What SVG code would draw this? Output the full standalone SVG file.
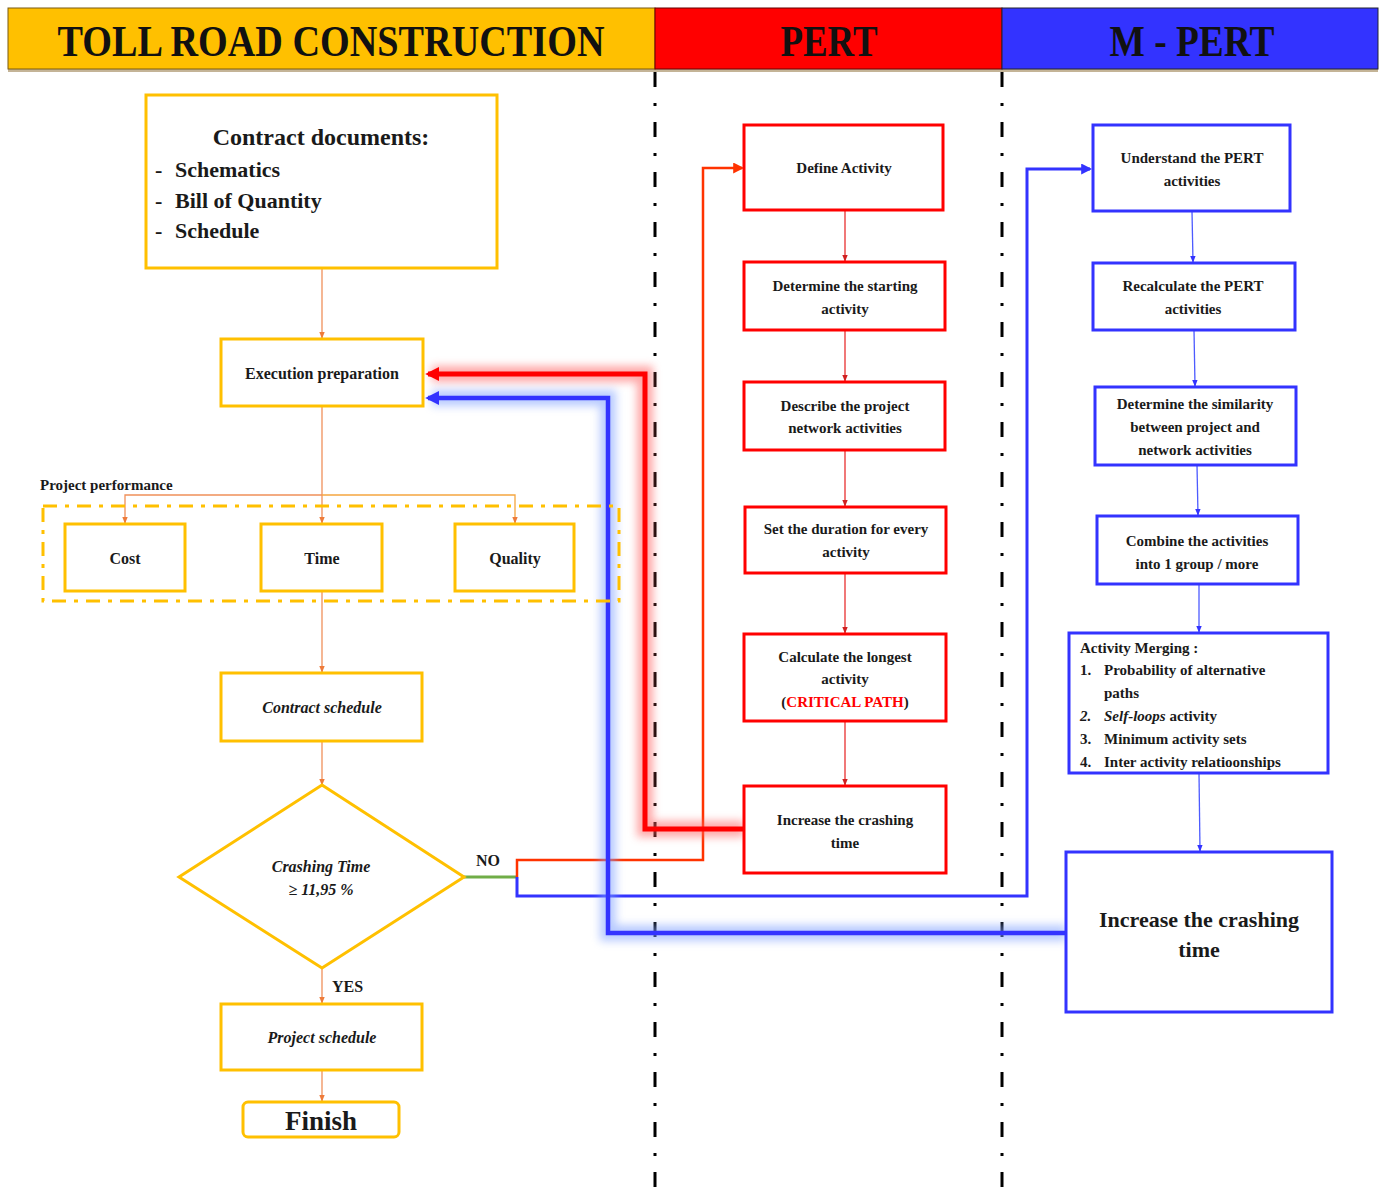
<svg xmlns="http://www.w3.org/2000/svg" width="1383" height="1203" viewBox="0 0 1383 1203">
  <style>
    text { font-family: "Liberation Serif", "Times New Roman", serif; font-weight: bold; fill: #1a1a1a; }
    .mid { text-anchor: middle; }
    .it { font-style: italic; }
    .s15 { font-size: 15px; }
    .s16 { font-size: 16px; }
    .head { font-size: 44px; fill: #111; }
    .yb { fill: #fff; stroke: #FFC000; stroke-width: 3; }
    .rb { fill: #fff; stroke: #FF0000; stroke-width: 3; }
    .bb { fill: #fff; stroke: #3333FF; stroke-width: 3; }
    .sep { stroke: #000; stroke-width: 3; stroke-dasharray: 15 16 3 16; fill: none; }
    .thinO { stroke: #F0905A; stroke-width: 1.3; fill: none; }
    .thinR { stroke: #E83030; stroke-width: 1.3; fill: none; }
    .thinB { stroke: #4D5BFF; stroke-width: 1.3; fill: none; }
  </style>
  <defs>
    <filter id="glow" x="-20%" y="-20%" width="140%" height="140%">
      <feGaussianBlur stdDeviation="4"/>
    </filter>
    <marker id="aO" viewBox="0 0 10 10" refX="9" refY="5" markerWidth="7" markerHeight="7" orient="auto" markerUnits="userSpaceOnUse">
      <path d="M0,1 L10,5 L0,9 z" fill="#EE7B3A"/>
    </marker>
    <marker id="aR" viewBox="0 0 10 10" refX="9" refY="5" markerWidth="7" markerHeight="7" orient="auto" markerUnits="userSpaceOnUse">
      <path d="M0,1 L10,5 L0,9 z" fill="#D02020"/>
    </marker>
    <marker id="aB" viewBox="0 0 10 10" refX="9" refY="5" markerWidth="7" markerHeight="7" orient="auto" markerUnits="userSpaceOnUse">
      <path d="M0,1 L10,5 L0,9 z" fill="#3333FF"/>
    </marker>
    <marker id="aRed" viewBox="0 0 10 10" refX="8" refY="5" markerWidth="11" markerHeight="11" orient="auto" markerUnits="userSpaceOnUse">
      <path d="M0,0 L10,5 L0,10 z" fill="#FF3300"/>
    </marker>
    <marker id="aBlue" viewBox="0 0 10 10" refX="8" refY="5" markerWidth="11" markerHeight="11" orient="auto" markerUnits="userSpaceOnUse">
      <path d="M0,0 L10,5 L0,10 z" fill="#3333FF"/>
    </marker>
    <marker id="aRedBig" viewBox="0 0 10 10" refX="8" refY="5" markerWidth="14" markerHeight="14" orient="auto" markerUnits="userSpaceOnUse">
      <path d="M0,0 L10,5 L0,10 z" fill="#FF0000"/>
    </marker>
    <marker id="aBlueBig" viewBox="0 0 10 10" refX="8" refY="5" markerWidth="14" markerHeight="14" orient="auto" markerUnits="userSpaceOnUse">
      <path d="M0,0 L10,5 L0,10 z" fill="#3333FF"/>
    </marker>
  </defs>

  <rect width="1383" height="1203" fill="#fff"/>

  <!-- column headers -->
  <g id="header">
    <rect x="8" y="9" width="1370" height="63" fill="#8a6a30" opacity="0.5"/>
    <rect x="8" y="8" width="647" height="61" fill="#FFC000" stroke="#7a5a10" stroke-width="1"/>
    <rect x="655" y="8" width="347" height="61" fill="#FF0000" stroke="#600" stroke-width="1"/>
    <rect x="1002" y="8" width="376" height="61" fill="#3333FF" stroke="#223" stroke-width="1"/>
    <text class="head mid" x="331" y="56" textLength="547" lengthAdjust="spacingAndGlyphs">TOLL ROAD CONSTRUCTION</text>
    <text class="head mid" x="829" y="56" textLength="97" lengthAdjust="spacingAndGlyphs">PERT</text>
    <text class="head mid" x="1192" y="56" textLength="165" lengthAdjust="spacingAndGlyphs">M - PERT</text>
  </g>

  <!-- lane separators -->
  <g id="separators">
    <line class="sep" x1="655" y1="72" x2="655" y2="1203"/>
    <line class="sep" x1="1002" y1="72" x2="1002" y2="1203"/>
  </g>

  <!-- connectors -->
  <g id="connectors">
    <!-- left lane flow -->
    <line class="thinO" x1="322" y1="268" x2="322" y2="338" marker-end="url(#aO)"/>
    <line class="thinO" x1="322" y1="406" x2="322" y2="523" marker-end="url(#aO)"/>
    <polyline class="thinO" points="322,495 125,495 125,523" marker-end="url(#aO)"/>
    <polyline points="322,495 515,495 515,523" fill="none" stroke="#F5A640" stroke-width="1.3" marker-end="url(#aO)"/>
    <line class="thinO" x1="322" y1="591" x2="322" y2="672" marker-end="url(#aO)"/>
    <line class="thinO" x1="322" y1="741" x2="322" y2="785" marker-end="url(#aO)"/>
    <line class="thinO" x1="322" y1="968" x2="322" y2="1003" marker-end="url(#aO)"/>
    <line class="thinO" x1="322" y1="1070" x2="322" y2="1101" marker-end="url(#aO)"/>

    <!-- PERT lane flow -->
    <line class="thinR" x1="845" y1="210" x2="845" y2="261" marker-end="url(#aR)"/>
    <line class="thinR" x1="845" y1="330" x2="845" y2="381" marker-end="url(#aR)"/>
    <line class="thinR" x1="845" y1="450" x2="845" y2="506" marker-end="url(#aR)"/>
    <line class="thinR" x1="845" y1="573" x2="845" y2="633" marker-end="url(#aR)"/>
    <line class="thinR" x1="845" y1="721" x2="845" y2="785" marker-end="url(#aR)"/>

    <!-- M-PERT lane flow -->
    <line class="thinB" x1="1192" y1="211" x2="1193" y2="262" marker-end="url(#aB)"/>
    <line class="thinB" x1="1194" y1="330" x2="1195" y2="386" marker-end="url(#aB)"/>
    <line class="thinB" x1="1197" y1="465" x2="1198" y2="515" marker-end="url(#aB)"/>
    <line class="thinB" x1="1199" y1="584" x2="1199" y2="632" marker-end="url(#aB)"/>
    <line class="thinB" x1="1199" y1="773" x2="1200" y2="851" marker-end="url(#aB)"/>

    <!-- decision branch NO -->
    <line x1="464" y1="877" x2="517" y2="877" stroke="#70AD47" stroke-width="3"/>
    <polyline points="517,877 517,860 703,860 703,168 742,168" fill="none" stroke="#FF3300" stroke-width="2.5" marker-end="url(#aRed)"/>
    <polyline points="517,877 517,896 1027,896 1027,169 1090,169" fill="none" stroke="#3333FF" stroke-width="3" marker-end="url(#aBlue)"/>

    <!-- feedback loops back to execution preparation -->
    <polyline points="744,829 645,829 645,374 432,374" fill="none" stroke="#FF6060" stroke-width="16" opacity="0.55" filter="url(#glow)"/>
    <polyline points="744,829 645,829 645,374 428,374" fill="none" stroke="#FF0000" stroke-width="5" marker-end="url(#aRedBig)"/>
    <polyline points="1066,933 608,933 608,398 432,398" fill="none" stroke="#7FA0FF" stroke-width="16" opacity="0.55" filter="url(#glow)"/>
    <polyline points="1066,933 608,933 608,398 428,398" fill="none" stroke="#3333FF" stroke-width="4.5" marker-end="url(#aBlueBig)"/>
  </g>

  <!-- toll road lane -->
  <g id="contract-documents">
    <rect class="yb" x="146" y="95" width="351" height="173"/>
    <text class="mid" x="321" y="145" font-size="24">Contract documents:</text>
    <text x="155" y="177" font-size="22">-</text>
    <text x="175" y="177" font-size="22">Schematics</text>
    <text x="155" y="208" font-size="22">-</text>
    <text x="175" y="208" font-size="22">Bill of Quantity</text>
    <text x="155" y="238" font-size="22">-</text>
    <text x="175" y="238" font-size="22">Schedule</text>
  </g>

  <g id="execution-preparation">
    <rect class="yb" x="221" y="339" width="202" height="67"/>
    <text class="mid s16" x="322" y="379">Execution preparation</text>
  </g>

  <g id="project-performance">
    <text class="s15" x="40" y="490">Project performance</text>
    <rect x="43" y="506" width="576" height="95" fill="none" stroke="#FFC000" stroke-width="3" stroke-dasharray="14 8 4 8"/>
  </g>

  <g id="cost">
    <rect class="yb" x="65" y="524" width="120" height="67"/>
    <text class="mid s16" x="125" y="564">Cost</text>
  </g>
  <g id="time">
    <rect class="yb" x="261" y="524" width="121" height="67"/>
    <text class="mid s16" x="322" y="564">Time</text>
  </g>
  <g id="quality">
    <rect class="yb" x="455" y="524" width="119" height="67"/>
    <text class="mid s16" x="515" y="564">Quality</text>
  </g>

  <g id="contract-schedule">
    <rect class="yb" x="221" y="673" width="201" height="68"/>
    <text class="mid s16 it" x="322" y="713">Contract schedule</text>
  </g>

  <g id="crashing-decision">
    <polygon class="yb" points="322,785 464,877 322,968 179,877"/>
    <text class="mid s16 it" x="321" y="872">Crashing Time</text>
    <text class="mid s16 it" x="321" y="895">≥ 11,95 %</text>
    <text class="s16" x="476" y="866">NO</text>
    <text class="s16" x="332" y="992">YES</text>
  </g>

  <g id="project-schedule">
    <rect class="yb" x="221" y="1004" width="201" height="66"/>
    <text class="mid s16 it" x="322" y="1043">Project schedule</text>
  </g>

  <g id="finish">
    <rect class="yb" x="243" y="1102" width="156" height="35" rx="5"/>
    <text class="mid" x="321" y="1130" font-size="27">Finish</text>
  </g>

  <!-- PERT lane -->
  <g id="define-activity">
    <rect class="rb" x="744" y="125" width="199" height="85"/>
    <text class="mid s15" x="844" y="173">Define Activity</text>
  </g>
  <g id="starting-activity">
    <rect class="rb" x="744" y="262" width="201" height="68"/>
    <text class="mid s15" x="845" y="291">Determine the starting</text>
    <text class="mid s15" x="845" y="314">activity</text>
  </g>
  <g id="network-activities">
    <rect class="rb" x="744" y="382" width="201" height="68"/>
    <text class="mid s15" x="845" y="411">Describe the project</text>
    <text class="mid s15" x="845" y="433">network activities</text>
  </g>
  <g id="set-duration">
    <rect class="rb" x="745" y="507" width="201" height="66"/>
    <text class="mid s15" x="846" y="534">Set the duration  for every</text>
    <text class="mid s15" x="846" y="557">activity</text>
  </g>
  <g id="longest-activity">
    <rect class="rb" x="744" y="634" width="202" height="87"/>
    <text class="mid s15" x="845" y="662">Calculate the longest</text>
    <text class="mid s15" x="845" y="684">activity</text>
    <text class="mid s15" x="845" y="707">(<tspan fill="#FF0000">CRITICAL PATH</tspan>)</text>
  </g>
  <g id="pert-crashing">
    <rect class="rb" x="744" y="786" width="202" height="87"/>
    <text class="mid s15" x="845" y="825">Increase the crashing</text>
    <text class="mid s15" x="845" y="848">time</text>
  </g>

  <!-- M-PERT lane -->
  <g id="understand-pert">
    <rect class="bb" x="1093" y="125" width="197" height="86"/>
    <text class="mid s15" x="1192" y="163">Understand  the PERT</text>
    <text class="mid s15" x="1192" y="186">activities</text>
  </g>
  <g id="recalculate-pert">
    <rect class="bb" x="1093" y="263" width="202" height="67"/>
    <text class="mid s15" x="1193" y="291">Recalculate the PERT</text>
    <text class="mid s15" x="1193" y="314">activities</text>
  </g>
  <g id="similarity">
    <rect class="bb" x="1095" y="387" width="201" height="78"/>
    <text class="mid s15" x="1195" y="409">Determine the similarity</text>
    <text class="mid s15" x="1195" y="432">between project and</text>
    <text class="mid s15" x="1195" y="455">network activities</text>
  </g>
  <g id="combine-activities">
    <rect class="bb" x="1097" y="516" width="201" height="68"/>
    <text class="mid s15" x="1197" y="546">Combine  the activities</text>
    <text class="mid s15" x="1197" y="569">into 1 group  / more</text>
  </g>
  <g id="activity-merging">
    <rect class="bb" x="1069" y="633" width="259" height="140"/>
    <text class="s15" x="1080" y="653">Activity Merging :</text>
    <text class="s15" x="1080" y="675">1.</text>
    <text class="s15" x="1104" y="675">Probability  of alternative</text>
    <text class="s15" x="1104" y="698">paths</text>
    <text class="s15 it" x="1080" y="721">2.</text>
    <text class="s15" x="1104" y="721"><tspan font-style="italic">Self-loops</tspan> activity</text>
    <text class="s15" x="1080" y="744">3.</text>
    <text class="s15" x="1104" y="744">Minimum  activity sets</text>
    <text class="s15" x="1080" y="767">4.</text>
    <text class="s15" x="1104" y="767">Inter activity relatioonships</text>
  </g>
  <g id="mpert-crashing">
    <rect class="bb" x="1066" y="852" width="266" height="160"/>
    <text class="mid" x="1199" y="927" font-size="22">Increase the crashing</text>
    <text class="mid" x="1199" y="957" font-size="22">time</text>
  </g>
</svg>
